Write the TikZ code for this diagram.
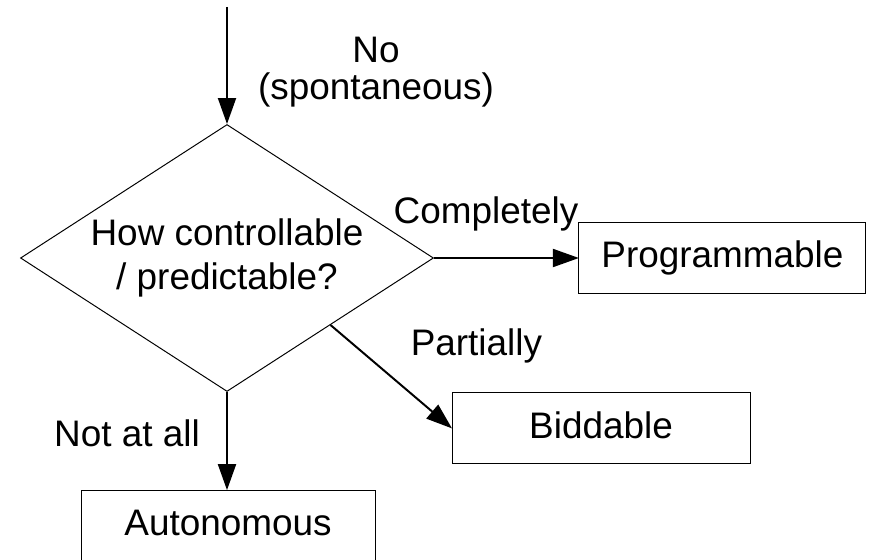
\documentclass[tikz,border=0pt]{standalone}
\usepackage{fontspec}
\setmainfont{Liberation Sans}
\usetikzlibrary{shapes.geometric,arrows.meta}

\begin{document}
\begin{tikzpicture}[font=\fontsize{26.25}{31.9}\selectfont,
  box/.style={draw,line width=0.7pt,minimum height=1.775cm,inner sep=0,outer sep=0,text height=19.2pt,text depth=5.5pt},
  lbl/.style={inner sep=0,text height=19.2pt,text depth=5.5pt},
  flow/.style={line width=1.4pt,-{Triangle[length=0.65cm,width=0.45cm]}}]
\useasboundingbox (0,0) rectangle (21.95,-13.975);

\node[draw,diamond,line width=0.7pt,aspect=1.547,minimum width=10.325cm,minimum height=6.675cm,inner sep=0,align=center] (ask) at (5.675,-6.45) {How controllable\\/ predictable?};
\coordinate (entry) at (5.675,-0.175);
\node[box,minimum width=7.175cm] (prog) at (18.06,-6.45) {Programmable};
\node[box,minimum width=7.45cm] (bid) at (15.025,-10.71) {Biddable};
\node[box,minimum width=7.35cm] (auto) at (5.7,-13.14) {Autonomous};

\node[align=center,inner sep=0,font=\fontsize{26.25}{26.2}\selectfont] (nolbl) at (9.4,-1.8) {No\\(spontaneous)};
\node[lbl] (complbl) at (12.15,-5.335) {Completely};
\node[lbl] (partlbl) at (11.91,-8.635) {Partially};
\node[lbl] (notlbl) at (3.175,-10.925) {Not at all};

\draw[flow] (entry) -- (ask.north);
\draw[flow] (ask.east) -- (prog.west);
\draw[flow] (ask.south east) -- (bid.west);
\draw[flow] (ask.south) -- (ask.south |- auto.north);

\end{tikzpicture}
\end{document}
